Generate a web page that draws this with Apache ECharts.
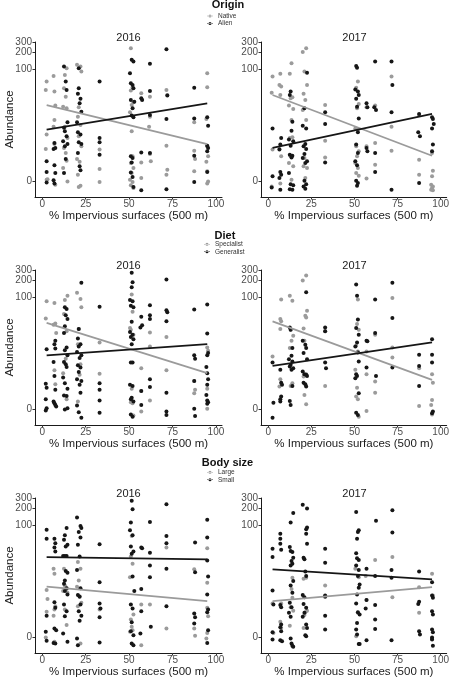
<!DOCTYPE html>
<html>
<head>
<meta charset="utf-8">
<script src="https://cdn.jsdelivr.net/npm/echarts@6/dist/echarts.min.js"></script>
<style>html,body{margin:0;padding:0;background:#fff;}#c{width:452px;height:680px;}</style>
</head>
<body>
<div id="c"></div>
<script>
// y values are plotted on a log10(abundance + 1) scale (jittered)
const yTickLabels = [0, 100, 200, 300];
const xTickLabels = [0, 25, 50, 75, 100];
const years = ['2016', '2017'];
const groupTitles = ['Origin', 'Diet', 'Body size'];
const groupLevels = [['Native', 'Alien'], ['Specialist', 'Generalist'], ['Large', 'Small']];
const fitX = [2.5, 95];

const origin2016Native = [
[2.5,1.78],[2,1.63],[2.5,0.83],[2,0.57],[2.5,0.02],[3,0.03],
[6.5,1.88],[7,1.60],[7.5,1.35],[7,1.09],[6.5,0.97],[7,0.66],[7.5,-0.07],
[14,2.02],[13,1.90],[12.5,1.66],[13.5,1.51],[12,1.33],[14,1.30],[13,0.97],[14.5,0.77],[12.5,0.59],[13.5,0.50],[14,0.36],[12,0.23],[14.5,-0.01],
[20,2.08],[22,2.05],[22.5,1.96],[21,1.32],[20.5,1.15],[22,1.00],[21,0.80],[22.5,0.62],[20,0.39],[21.5,0.34],[20.5,0.11],[22,-0.09],[21,-0.11],
[33,0.56],[33,0.21],[33,-0.02],
[51,2.38],[52,1.68],[51,1.62],[52.5,1.41],[51.5,1.36],[50.5,1.23],[51.5,0.89],[52,0.44],[51,0.32],[52.5,0.23],[51.5,0.14],[50.5,0.02],[52,-0.02],[51,-0.08],[52.5,-0.13],
[57,1.57],[57,0.33],[57,0.05],
[62,1.51],[62,1.15],[61.5,0.97],[62,0.48],[62.5,0.35],
[71.5,1.63],[72,1.54],[71.5,0.63],[72,0.20],[71.5,0.11],
[87.5,1.05],[87.5,0.54],[88,0.39],[87.5,0.17],
[95,1.93],[95,1.68],[94.5,1.11],[95,0.62],[95.5,0.44],[94.5,0.34],[95,0.17],[95.5,-0.01],[95,-0.05]
];
const origin2016Alien = [
[2.5,0.35],[2.5,0.16],[2.5,-0.03],
[7,0.68],[6.5,0.57],[7.5,0.59],[7,0.28],[7.5,0.14],[6.5,0.01],[7,-0.05],
[12.5,2.05],[13.5,1.78],[14,1.63],[14.5,1.05],[12.5,0.95],[13,0.89],[14,0.80],[12,0.71],[14.5,0.66],[13,0.62],[13.5,0.39],[12.5,0.14],
[21,2.02],[21,1.66],[20.5,1.56],[22,1.47],[21.5,1.39],[22.5,1.24],[20,1.05],[20.5,0.87],[22,0.83],[21,0.69],[22.5,0.66],[20.5,0.50],[21.5,0.26],[22,0.19],
[33,1.78],[33,0.77],[33,0.69],[33,0.47],
[51.5,2.17],[52.5,2.14],[50.5,1.93],[51,1.75],[52,1.72],[52.5,1.66],[51,1.45],[53,1.42],[52,1.30],[51.5,1.17],[52.5,1.14],[51,0.44],[52,0.41],[51.5,0.33],[51,0.15],[52,0.07],[52.5,-0.11],
[57,1.48],[57.5,1.45],[57,0.51],[57,-0.17],
[62,2.10],[62,1.61],[62,1.18],[62,0.50],
[71.5,2.36],[72,1.53],[71.5,1.11],[71.5,-0.15],
[87.5,1.67],[87.5,1.12],[87.5,0.45],[87.5,-0.02],
[95,1.14],[95.5,0.99],[95,0.63],[95.5,0.59],[95,0.53],[95,0.16]
];
const origin2017Native = [
[2.5,1.87],[2,1.58],[2.5,0.56],[2,-0.10],
[7,1.92],[6.5,1.72],[7.5,1.69],[7,1.54],[6.5,0.57],[7.5,0.44],[7,-0.05],
[13.5,2.11],[12.5,1.92],[14,1.50],[13,1.48],[12,1.35],[14.5,1.29],[13.5,1.09],[12.5,0.77],[14,0.78],[13,0.44],[12,0.32],[14.5,0.26],[13.5,0.02],
[20,2.31],[22,2.38],[21,1.96],[22.5,1.72],[20.5,1.56],[21.5,1.45],[20,1.27],[22,1.09],[21,0.41],[20.5,0.26],[22.5,0.23],[21.5,0.05],
[33,1.36],[33,0.72],[33,0.42],
[52,1.78],[51,1.67],[52.5,1.38],[51.5,1.30],[50.5,0.94],[52,0.92],[51,0.62],[52.5,0.53],[51.5,0.44],[50.5,0.32],[52,0.23],[51,0.14],[52.5,0.09],
[57,1.32],[57,0.62],[57,0.04],
[62,1.35],[62,0.68],[62,0.29],
[71.5,1.87],[71.5,0.97],[71.5,0.54],
[87.5,1.18],[87.5,0.38],[87.5,0.11],
[95,0.50],[95.5,0.18],[95,0.08],[94.5,-0.07],[95.5,-0.10],[95,-0.13],[94.5,-0.16],[95.5,-0.17]
];
const origin2017Alien = [
[2.5,0.94],[2.5,0.08],[2,-0.12],
[7.5,0.77],[7,0.65],[6.5,0.56],[7,0.16],[7.5,0.11],[6.5,0.05],[7,-0.16],
[13,1.60],[12.5,1.54],[14,1.06],[13.5,0.90],[12,0.74],[14.5,0.71],[13,0.63],[12.5,0.47],[14,0.45],[13.5,0.42],[12,0.14],[13,-0.06],[14.5,-0.08],[12.5,-0.15],[14,-0.16],
[22.5,1.94],[21,1.30],[20,0.99],[22,0.94],[21.5,0.66],[20.5,0.62],[22,0.57],[21,0.48],[20,0.41],[22.5,0.35],[21.5,0.32],[21,0.00],[22,-0.06],[20.5,-0.10],[21.5,-0.14],
[33,1.23],[33,1.02],[33,0.33],
[51,2.06],[51.5,2.03],[50.5,1.64],[52,1.60],[52.5,1.54],[51,1.47],[51.5,1.33],[52.5,1.12],[52,0.87],[51,0.65],[52,0.50],[50.5,0.35],[51.5,0.28],[51,0.00],[52,-0.04],[51.5,-0.09],
[57,1.39],[57.5,1.32],[57,0.59],[57.5,0.53],
[62,2.14],[61.5,1.32],[62.5,1.27],[62,0.50],[62,0.16],
[71.5,2.14],[72,1.72],[71.5,1.23],[71.5,-0.16],
[87.5,1.20],[87,0.87],[88,0.80],[87.5,-0.04],
[95,1.14],[95.5,1.11],[96,1.02],[95,0.94],[95.5,0.65],[95,0.53]
];
const diet2016Specialist = [
[2.5,1.93],[2,1.62],
[7,1.90],[7.5,1.53],[6.5,1.51],[8,1.36],[7,0.69],[7.5,0.44],
[14.5,2.03],[13,1.95],[12.5,1.70],[14,1.39],[13.5,0.90],[12,0.64],[14,0.17],
[20,2.08],[22,1.97],[22.5,1.82],[21,1.43],[20.5,1.16],[22,0.80],[21.5,0.61],[20.5,0.13],
[33,1.19],[33,0.63],
[51.5,2.05],[52,1.74],[51,1.42],[52.5,1.33],[50.5,1.45],[51.5,0.36],[51,0.12],[52,0.10],[52.5,-0.12],
[57,0.73],[57,0.32],[57,-0.05],
[62,1.37],[62,1.12],[62,0.15],
[71.5,1.29],[71.5,0.69],
[87.5,0.50],[88,0.34],[87.5,0.28],
[95,1.10],[95.5,1.04],[95,0.36],[95,0.00]
];
const diet2016Generalist = [
[2.5,1.07],[2,0.45],[2.5,0.38],[2,0.17],[2.5,0.01],[2,-0.03],
[7.5,1.22],[7,1.16],[7.5,1.08],[6.5,0.84],[7,0.59],[7.5,0.34],[6.5,0.13],[7,0.10],[7.5,0.07],[8,0.04],
[13,1.82],[14,1.79],[13.5,1.68],[14.5,1.61],[13,1.48],[12.5,1.36],[14,1.10],[13,1.05],[14.5,0.96],[12.5,0.84],[13.5,0.80],[14,0.75],[12,0.56],[13,0.46],[14.5,0.36],[12.5,0.24],[14,0.23],[13,-0.01],[14.5,0.01],
[22.5,2.26],[21,1.43],[20.5,1.26],[22,1.16],[21,1.12],[20,1.02],[22.5,0.96],[21.5,0.91],[20.5,0.78],[22,0.74],[21,0.66],[20,0.53],[22.5,0.50],[21.5,0.43],[22,0.29],[20,0.06],[21,-0.06],[22.5,-0.16],
[33,1.83],[33,0.46],[33,0.34],[33,0.15],[33,-0.07],
[51.5,2.44],[52,2.27],[51.5,2.18],[50.5,1.95],[52,1.93],[51,1.85],[52.5,1.82],[51.5,1.56],[50.5,1.38],[52,1.33],[51,1.29],[52.5,1.25],[51.5,1.16],[52,0.83],[51,0.83],[50.5,0.43],[52,0.41],[51.5,0.20],[51,0.17],[52.5,0.13],[51,-0.10],[52,-0.14],
[57,1.65],[57.5,1.50],[56.5,1.46],[57,0.32],[57,0.07],
[62,1.86],[62,1.68],[62,1.61],[62,0.53],[62,0.39],
[71.5,2.32],[71.5,1.77],[72,1.73],[71.5,1.57],[71.5,0.29],[71.5,-0.05],[71.5,-0.11],
[87.5,1.78],[87.5,0.96],[88,0.90],[87.5,0.50],[87.5,0.00],[88,-0.13],
[95,1.87],[95,1.35],[95.5,1.00],[95,0.96],[94.5,0.75],[95,0.64],[95.5,0.53],[95,0.43],[94.5,0.25],[95,0.15],[95.5,0.12],[95,0.09]
];
const diet2017Specialist = [
[2.5,0.94],
[7.5,1.96],[7,1.61],[7.5,1.57],[7,1.43],[7,0.53],[6.5,0.40],
[12.5,2.03],[14,1.94],[13,1.42],[14.5,1.31],[13.5,1.22],[12.5,1.09],[14,0.46],[13,0.41],
[20,2.30],[22,2.39],[22.5,1.76],[21.5,1.67],[22,1.64],[20.5,1.44],[21,1.22],[22,0.62],[20.5,0.58],[21,0.25],[22,0.08],
[33,1.39],[33,0.41],
[52,1.96],[51.5,1.52],[52.5,1.42],[51,1.13],[52,1.03],[50.5,0.70],[51.5,0.38],[51,0.22],[52,0.17],[52.5,-0.14],
[57,1.03],[57,0.62],[57,-0.04],
[62,1.33],[62,0.49],[62,0.29],
[72,1.99],[72,1.10],[72,0.92],
[87.5,0.73],[87.5,0.05],
[95,0.62],[95.5,0.47],[95,0.16],[94.5,0.07],[95,-0.10]
];
const diet2017Generalist = [
[2.5,0.83],[3,0.11],[2.5,-0.16],
[7,0.70],[7.5,0.47],[8,0.43],[7,0.17],[7.5,0.22],[7,0.13],
[12.5,1.46],[13,1.42],[14,1.09],[13.5,0.95],[12,0.89],[14,0.85],[13,0.79],[12.5,0.76],[14.5,0.73],[13.5,0.70],[14,0.41],[12.5,0.14],[13,0.07],
[22,2.09],[20,1.22],[21.5,1.15],[22,1.09],[20.5,1.00],[22.5,0.89],[20,0.67],[21,0.62],[22,0.61],[22.5,0.59],[20.5,0.47],[21.5,0.44],[22,0.40],
[33,1.46],[33,1.39],[33,0.83],[33.5,0.73],
[51,2.23],[51.5,2.03],[52,1.60],[51,1.45],[52.5,1.33],[51.5,1.19],[50.5,1.12],[52,1.01],[52.5,0.85],[51,0.62],[51.5,0.59],[50.5,0.55],[52.5,0.28],[51,-0.07],[52,-0.11],
[57,1.22],[57.5,1.21],[57,0.74],
[62,1.96],[62,1.36],[62.5,0.59],
[72,2.26],[72,1.63],[72,0.74],
[87.5,0.97],[87.5,0.77],[87.5,0.41],
[95,1.25],[95,0.97],[95,0.83],[95.5,-0.05],[95,-0.08]
];
const body2016Large = [
[2.5,0.84],[3,0.68],[2.5,0.45],[2,-0.01],
[6.5,1.22],[7,1.13],[7.5,0.55],[7,0.49],[6.5,0.38],[7,-0.09],
[12.5,1.22],[13,0.92],[13.5,0.89],[14,0.86],[12,0.82],[14.5,0.79],[13,0.49],[14,0.21],
[20.5,1.34],[22,1.22],[21,1.01],[20,0.90],[21.5,0.73],[22.5,0.61],[20.5,0.55],[22,-0.12],
[33,0.49],
[51.5,1.81],[51,1.44],[52,1.31],[50.5,1.07],[52.5,0.40],[51,0.31],[51.5,0.18],[52,0.12],[50.5,0.09],
[57,0.58],[57,-0.15],
[62,0.58],
[71.5,1.60],[71.5,0.15],
[87.5,1.21],[87.5,0.15],[88,0.02],
[95,1.59],[95,0.97],[95,0.52],[95.5,0.37],[95,0.07],[94.5,-0.03]
];
const body2016Small = [
[2.5,1.92],[2.5,1.76],[2.5,0.38],[2,0.09],[2.5,-0.07],
[7,1.76],[7.5,1.68],[7,1.60],[7.5,1.53],[7,0.62],[7.5,0.52],[8,0.12],[7,0.15],[6.5,-0.11],[7.5,-0.12],
[14,1.95],[13,1.82],[12.5,1.74],[14.5,1.65],[13.5,1.62],[12,1.45],[13,1.45],[14,1.45],[13.5,1.18],[14.5,1.15],[13,1.01],[12.5,0.95],[14,0.87],[13,0.82],[14.5,0.76],[12.5,0.58],[14,0.46],[13,0.37],[12,0.06],[14.5,-0.09],
[20,2.14],[22,1.99],[22.5,1.95],[21,1.88],[22,1.78],[20.5,1.65],[21.5,1.44],[20,1.20],[22,0.87],[20.5,0.75],[21.5,0.72],[22,0.58],[21,0.46],[22.5,0.38],[21.5,0.29],[20,-0.03],[20.5,-0.15],
[33,1.66],[33,0.98],[33,0.60],[33.5,0.51],[33,0.35],[33,-0.10],
[51.5,2.44],[52,2.29],[51,2.05],[50.5,1.91],[52,1.82],[51,1.62],[52.5,1.53],[51.5,1.49],[52,1.08],[53,0.82],[51,0.58],[52,0.51],[51.5,0.26],[51,0.10],[52.5,0.03],[51.5,-0.12],[52.5,-0.15],
[57,1.60],[57.5,1.59],[57,0.86],[57,0.46],[56.5,0.06],
[62,2.06],[62,1.51],[62,1.28],[62,1.07],[62.5,0.18],
[71.5,2.38],[71.5,1.81],[71.5,1.68],[71.5,1.22],[71.5,0.55],
[88,1.69],[88,1.16],[87.5,0.42],[88,0.35],[87.5,0.24],
[95,2.10],[95,1.78],[95,1.37],[95.5,1.08],[95,0.76],[95.5,0.49],[95,0.44],[95.5,0.12],[95,-0.11]
];
const body2017Large = [
[2.5,0.60],[3,0.07],
[7.5,0.60],[7,0.27],[7.5,0.16],
[14,1.06],[13.5,0.86],[14,0.70],[13,0.53],[14.5,0.47],[12.5,0.20],
[20.5,1.04],[22,1.06],[22.5,0.47],[21.5,0.44],[21,0.39],[20.5,0.16],
[33,0.92],
[50.5,1.22],[52.5,1.07],[52,0.43],[51,0.01],
[56.5,1.09],[57,0.66],
[62,1.38],
[72,1.43],[72,0.71],
[87.5,0.89],[87.5,0.43],
[95,1.13],[95.5,0.74],[95,-0.04]
];
const body2017Small = [
[2.5,1.58],[2.5,1.43],[2.5,0.83],[3,0.58],[2.5,0.08],[2.5,-0.05],
[7,1.85],[7,1.76],[7,1.67],[7.5,1.56],[7,0.57],[7.5,0.53],[7.5,0.22],[7,0.17],[7.5,0.10],[7,-0.06],[8,-0.08],
[14.5,2.22],[13,2.05],[12.5,1.61],[13,1.54],[14,1.52],[14.5,1.42],[13.5,1.36],[14,1.31],[13,1.28],[14.5,1.00],[13,0.92],[14,0.79],[12.5,0.61],[13.5,0.53],[12,0.43],[13,0.36],[13,-0.03],[13.5,-0.12],[14,-0.16],[14.5,-0.18],
[22.5,2.30],[20,2.37],[22.5,1.96],[22,1.93],[22,1.85],[22.5,1.67],[20.5,1.42],[21,1.39],[21.5,1.17],[22,1.09],[20,0.75],[21,0.71],[20.5,0.59],[22,0.52],[21,0.43],[20,0.36],[22,0.22],[22.5,0.16],[21.5,0.03],[22,0.01],
[33,1.58],[33,1.33],[33,0.74],[33,0.72],[33,0.38],[33,0.13],
[51,2.24],[52.5,1.91],[52,1.88],[51.5,1.76],[51,1.50],[51.5,1.41],[52.5,1.38],[51,1.28],[52.5,1.20],[52,1.09],[53,0.94],[52.5,0.88],[51.5,0.76],[51,0.60],[52,0.44],[53,0.40],[51.5,0.25],[51,0.13],[51.5,0.04],[52.5,-0.13],[53,-0.13],
[57,1.22],[57,0.66],[56.5,0.51],[57,-0.06],
[62.5,2.08],[62,1.09],[62,0.57],[62,0.31],[62,0.14],
[72,2.27],[72,1.87],[71.5,1.20],[71.5,1.06],[71.5,-0.06],
[87.5,1.17],[87.5,0.63],[87,0.59],[87.5,0.10],[88,0.04],
[95,0.98],[95,0.74],[95.5,0.70],[95,0.46],[95.5,0.40],[95,0.13],[95.5,0.08],[95,-0.01],[95,-0.05],[95.5,-0.16]
];

// fitted lines (log10(abundance+1)) at fitX
const origin2016NativeFit = [1.36, 0.66];
const origin2016AlienFit = [0.92, 1.39];
const origin2017NativeFit = [1.54, 0.45];
const origin2017AlienFit = [0.59, 1.20];
const diet2016SpecialistFit = [1.54, 0.64];
const diet2016GeneralistFit = [0.96, 1.16];
const diet2017SpecialistFit = [1.57, 0.52];
const diet2017GeneralistFit = [0.77, 1.19];
const body2016LargeFit = [0.90, 0.64];
const body2016SmallFit = [1.43, 1.39];
const body2017LargeFit = [0.64, 0.89];
const body2017SmallFit = [1.21, 1.03];

const panels = [
  [origin2016Native, origin2016Alien, origin2016NativeFit, origin2016AlienFit],
  [origin2017Native, origin2017Alien, origin2017NativeFit, origin2017AlienFit],
  [diet2016Specialist, diet2016Generalist, diet2016SpecialistFit, diet2016GeneralistFit],
  [diet2017Specialist, diet2017Generalist, diet2017SpecialistFit, diet2017GeneralistFit],
  [body2016Large, body2016Small, body2016LargeFit, body2016SmallFit],
  [body2017Large, body2017Small, body2017LargeFit, body2017SmallFit]
];

const FONT = '"Liberation Sans", Arial, Helvetica, sans-serif';
const GRAY = '#9b9b9b';
const BLACK = '#161616';
const gridLeft = [35, 261];
const gridTop = [42, 270, 498];
const GW = 187, GH = 155;
const YMIN = -0.29, YMAX = 2.49;
const legendTitleX = [228, 225, 227.5];
const legendTitleY = [5, 235.7, 463];
const legendLeft = [207, 204, 207];
const legendTop = [12.2, 240.5, 468.5];
const ICON = 'path://M0,2.4L12,2.4L12,3.6L0,3.6Z M3,3a3,3 0 1,0 6,0a3,3 0 1,0 -6,0Z';
const tr = v => Math.log10(v + 1);
const labelFmt = v => String(Math.round(Math.pow(10, v) - 1));

const grids = [], xAxes = [], yAxes = [], series = [], titles = [], legends = [];
for (let r = 0; r < 3; r++) {
  titles.push({
    text: groupTitles[r], left: legendTitleX[r], top: legendTitleY[r] - 6, textAlign: 'center', padding: 0,
    textStyle: { fontSize: 11, fontWeight: 'bold', color: '#111', fontFamily: FONT, lineHeight: 12 }
  });
  legends.push({
    data: groupLevels[r], orient: 'vertical', left: legendLeft[r], top: legendTop[r], padding: 0,
    itemWidth: 6, itemHeight: 3, itemGap: 0, icon: ICON, selectedMode: false,
    textStyle: { fontSize: 6.5, lineHeight: 7.5, color: '#333', fontFamily: FONT }
  });
  for (let c = 0; c < 2; c++) {
    const i = r * 2 + c;
    grids.push({ left: gridLeft[c], top: gridTop[r], width: GW, height: GH, containLabel: false });
    titles.push({
      text: years[c], left: gridLeft[c] + GW / 2, top: gridTop[r] - 10.3, textAlign: 'center', padding: 0,
      textStyle: { fontSize: 11, fontWeight: 'normal', color: '#1a1a1a', fontFamily: FONT, lineHeight: 12 }
    });
    xAxes.push({
      type: 'value', gridIndex: i, min: -4.2, max: 103.5,
      name: '% Impervious surfaces (500 m)', nameLocation: 'middle', nameGap: 12,
      nameTextStyle: { fontSize: 11.5, color: '#1a1a1a', fontFamily: FONT },
      axisLine: { show: true, onZero: false, lineStyle: { color: '#1a1a1a', width: 1 } },
      axisTick: { show: true, length: 2.5, customValues: xTickLabels, lineStyle: { color: '#333' } },
      axisLabel: { customValues: xTickLabels, margin: 2, fontSize: 10, color: '#4d4d4d', fontFamily: FONT, showMinLabel: true, showMaxLabel: true },
      splitLine: { show: false }
    });
    // main y axis: 0, 100, 300
    const yvMain = [yTickLabels[0], yTickLabels[1], yTickLabels[3]].map(tr);
    yAxes.push({
      type: 'value', gridIndex: i, min: YMIN, max: YMAX,
      name: c === 0 ? 'Abundance' : '', nameLocation: 'middle', nameGap: 19, nameMoveOverlap: false,
      nameTextStyle: { fontSize: 11.5, color: '#1a1a1a', fontFamily: FONT },
      axisLine: { show: true, onZero: false, lineStyle: { color: '#1a1a1a', width: 1 } },
      axisTick: { show: true, length: 2.5, customValues: yvMain, lineStyle: { color: '#333' } },
      axisLabel: {
        customValues: yvMain, margin: 3, fontSize: 10, color: '#4d4d4d', fontFamily: FONT,
        showMinLabel: true, showMaxLabel: true, hideOverlap: false, formatter: labelFmt
      },
      splitLine: { show: false }
    });
    // companion y axis on same grid for the crowded 200 tick
    const yvExtra = [tr(yTickLabels[2])];
    yAxes.push({
      type: 'value', gridIndex: i, min: YMIN, max: YMAX, position: 'left', offset: 0,
      axisLine: { show: false, onZero: false },
      axisTick: { show: true, length: 2.5, customValues: yvExtra, lineStyle: { color: '#333' } },
      axisLabel: {
        customValues: yvExtra, margin: 3, fontSize: 10, color: '#4d4d4d', fontFamily: FONT,
        showMinLabel: true, showMaxLabel: true, formatter: labelFmt
      },
      splitLine: { show: false }
    });
    const yi = i * 2;
    const p = panels[i];
    const names = groupLevels[r];
    series.push({ type: 'scatter', name: names[0], xAxisIndex: i, yAxisIndex: yi, data: p[0], symbolSize: 4, itemStyle: { color: GRAY, opacity: 1 }, z: 2, silent: true });
    series.push({ type: 'scatter', name: names[1], xAxisIndex: i, yAxisIndex: yi, data: p[1], symbolSize: 4, itemStyle: { color: BLACK, opacity: 1 }, z: 3, silent: true });
    series.push({ type: 'line', name: names[0] + ' fit', xAxisIndex: i, yAxisIndex: yi, data: fitX.map((x, k) => [x, p[2][k]]), showSymbol: false, lineStyle: { color: GRAY, width: 1.8 }, z: 4, silent: true });
    series.push({ type: 'line', name: names[1] + ' fit', xAxisIndex: i, yAxisIndex: yi, data: fitX.map((x, k) => [x, p[3][k]]), showSymbol: false, lineStyle: { color: BLACK, width: 1.8 }, z: 5, silent: true });
  }
}

const chart = echarts.init(document.getElementById('c'), null, { renderer: 'canvas' });
chart.setOption({
  backgroundColor: '#fff',
  animation: false,
  textStyle: { fontFamily: FONT },
  title: titles, legend: legends, grid: grids, xAxis: xAxes, yAxis: yAxes, series: series
});
</script>
</body>
</html>
